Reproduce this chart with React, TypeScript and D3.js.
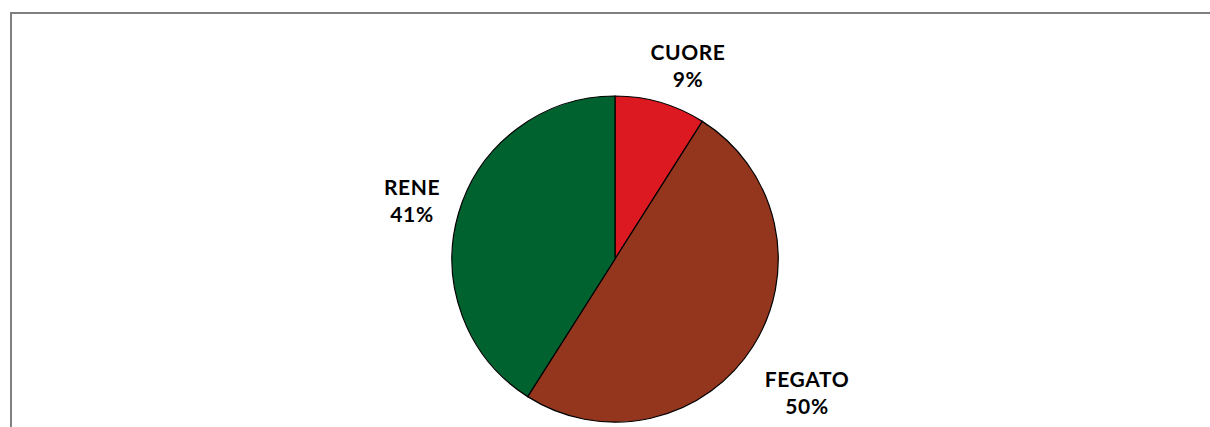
import React from "react";
import * as d3 from "d3";

const categories = ["CUORE", "FEGATO", "RENE"];
const values = [9, 50, 41];
const colors = ["#dc1820", "#94361e", "#00622e"];
const labelPos = [
  { x: 688, y: 60 },
  { x: 807, y: 387 },
  { x: 412, y: 195 },
];

export default function App() {
  const W = 1210;
  const H = 427;
  const cx = 615;
  const cy = 259;
  const r = 163;
  const pie = d3.pie<number>().sort(null).value((d) => d)(values);
  const arc = d3.arc<d3.PieArcDatum<number>>().innerRadius(0).outerRadius(r);
  const total = d3.sum(values);
  return (
    <svg
      width={W}
      height={H}
      style={{ position: "absolute", left: 0, top: 0, background: "#fff" }}
    >
      <rect x={11} y={13} width={1300} height={500} fill="none" stroke="#808080" strokeWidth={2} />
      <g transform={`translate(${cx},${cy})`}>
        {pie.map((p, i) => (
          <path key={i} d={arc(p) || ""} fill={colors[i]} stroke="#000" strokeWidth={1.2} />
        ))}
      </g>
      {categories.map((c, i) => (
        <text
          key={c}
          x={labelPos[i].x}
          y={labelPos[i].y}
          textAnchor="middle"
          fontFamily="Lato, 'Open Sans', sans-serif"
          fontWeight="bold"
          fontSize={21}
          letterSpacing={0.6}
          fill="#000"
        >
          <tspan x={labelPos[i].x}>{c}</tspan>
          <tspan x={labelPos[i].x} dy={27}>
            {Math.round((values[i] / total) * 100)}%
          </tspan>
        </text>
      ))}
    </svg>
  );
}
